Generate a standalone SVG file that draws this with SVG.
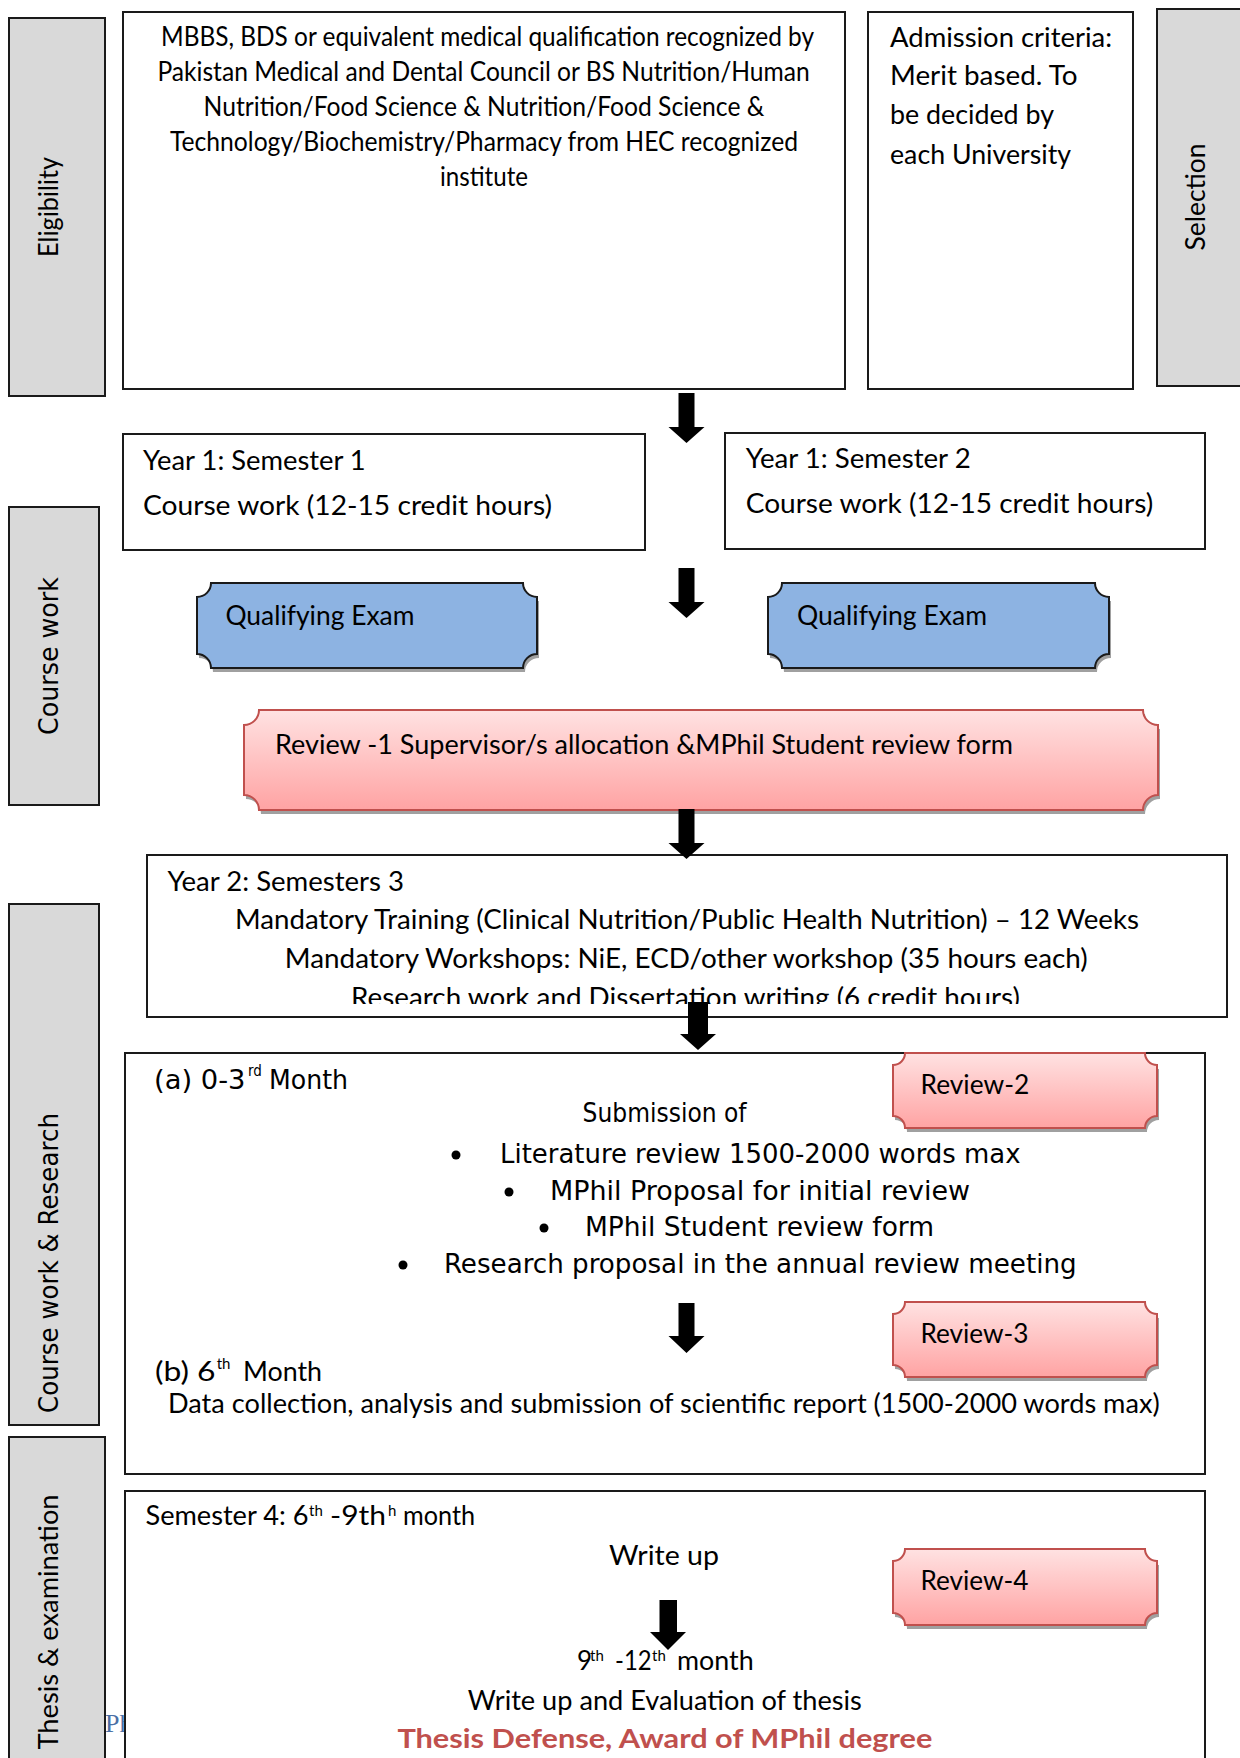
<svg xmlns="http://www.w3.org/2000/svg" width="1240" height="1758" viewBox="0 0 1240 1758">
<defs>
<linearGradient id="pink" x1="0" y1="0" x2="0" y2="1">
<stop offset="0" stop-color="#FFE2E2"/>
<stop offset="1" stop-color="#FFA3A3"/>
</linearGradient>
<clipPath id="y2clip"><rect x="147" y="855" width="1080" height="149"/></clipPath>
</defs>
<style>
.box{fill:#fff;stroke:#1a1a1a;stroke-width:2}
.lab{fill:#D9D9D9;stroke:#1a1a1a;stroke-width:2}
.blue{fill:#8DB3E2;stroke:#1a1a1a;stroke-width:2}
.pink{fill:url(#pink);stroke:#C0504D;stroke-width:2}
.shadow{fill:#A0A0A0}
.t{font-family:Lato,"Liberation Sans",sans-serif;font-size:26px;fill:#000}
.v{font-family:"DejaVu Sans","Liberation Sans",sans-serif;font-size:26px;fill:#000}
.c{font-family:"DejaVu Sans","Liberation Sans",sans-serif;font-stretch:condensed;font-size:26px;fill:#000}
.sup{font-size:15px}
.red{font-family:Lato,"Liberation Sans",sans-serif;font-size:27px;font-weight:bold;fill:#C0504D}
.arrow{fill:#000}
</style>
<rect x="0" y="0" width="1240" height="1758" fill="#fff"/>

<text x="82" y="1732" font-family="'Liberation Serif',serif" font-size="26" fill="#4A6FA5">MPhil</text>

<g id="label-eligibility">
<rect class="lab" x="9" y="18" width="96" height="378"/>
<text class="t" font-size="28" transform="translate(58,207) rotate(-90)" text-anchor="middle" textLength="100" lengthAdjust="spacingAndGlyphs">Eligibility</text>
</g>
<g id="label-selection">
<rect class="lab" x="1157" y="9" width="100" height="377"/>
<text class="t" font-size="28" transform="translate(1205,197) rotate(-90)" text-anchor="middle" textLength="107" lengthAdjust="spacingAndGlyphs">Selection</text>
</g>
<g id="label-coursework">
<rect class="lab" x="9" y="507" width="90" height="298"/>
<text class="v" font-size="28" transform="translate(58,656) rotate(-90)" text-anchor="middle" textLength="158" lengthAdjust="spacingAndGlyphs">Course work</text>
</g>
<g id="label-research">
<rect class="lab" x="9" y="904" width="90" height="521"/>
<text class="v" font-size="28" transform="translate(58,1263) rotate(-90)" text-anchor="middle" textLength="300" lengthAdjust="spacingAndGlyphs">Course work &amp; Research</text>
</g>
<g id="label-thesis">
<rect class="lab" x="9" y="1437" width="96" height="340"/>
<text class="t" font-size="28" transform="translate(58,1622) rotate(-90)" text-anchor="middle" textLength="255" lengthAdjust="spacingAndGlyphs">Thesis &amp; examination</text>
</g>

<g id="eligibility">
<rect class="box" x="123" y="12" width="722" height="377"/>
<text class="t" x="161" y="46" textLength="653" lengthAdjust="spacingAndGlyphs">MBBS, BDS or equivalent medical qualification recognized by</text>
<text class="t" x="157.4" y="81" textLength="652.4" lengthAdjust="spacingAndGlyphs">Pakistan Medical and Dental Council or BS Nutrition/Human</text>
<text class="t" x="203.6" y="116" textLength="560.7" lengthAdjust="spacingAndGlyphs">Nutrition/Food Science &amp; Nutrition/Food Science &amp;</text>
<text class="t" x="170" y="151" textLength="628" lengthAdjust="spacingAndGlyphs">Technology/Biochemistry/Pharmacy from HEC recognized</text>
<text class="t" x="440" y="186" textLength="88" lengthAdjust="spacingAndGlyphs">institute</text>
</g>

<g id="admission">
<rect class="box" x="868" y="12" width="265" height="377"/>
<text class="t" x="890" y="47" textLength="222" lengthAdjust="spacingAndGlyphs">Admission criteria:</text>
<text class="t" x="890" y="85" textLength="187.5" lengthAdjust="spacingAndGlyphs">Merit based. To</text>
<text class="t" x="890" y="124" textLength="164" lengthAdjust="spacingAndGlyphs">be decided by</text>
<text class="t" x="890" y="164" textLength="181" lengthAdjust="spacingAndGlyphs">each University</text>
</g>

<g id="semester1">
<rect class="box" x="123" y="434" width="522" height="116"/>
<text class="t" x="143" y="470" textLength="222.7" lengthAdjust="spacingAndGlyphs">Year 1: Semester 1</text>
<text class="t" x="143" y="515" textLength="409" lengthAdjust="spacingAndGlyphs">Course work (12-15 credit hours)</text>
</g>

<g id="semester2">
<rect class="box" x="725" y="433" width="480" height="116"/>
<text class="t" x="745.7" y="468" textLength="225" lengthAdjust="spacingAndGlyphs">Year 1: Semester 2</text>
<text class="t" x="745.7" y="513" textLength="407.5" lengthAdjust="spacingAndGlyphs">Course work (12-15 credit hours)</text>
</g>

<g id="qualifying1">
<path class="shadow" transform="translate(2,4)" d="M211,583 H523 A14,14 0 0 0 537,597 V654 A14,14 0 0 0 523,668 H211 A14,14 0 0 0 197,654 V597 A14,14 0 0 0 211,583 Z"/>
<path class="blue" d="M211,583 H523 A14,14 0 0 0 537,597 V654 A14,14 0 0 0 523,668 H211 A14,14 0 0 0 197,654 V597 A14,14 0 0 0 211,583 Z"/>
<text class="t" x="225.4" y="625" textLength="189" lengthAdjust="spacingAndGlyphs">Qualifying Exam</text>
</g>

<g id="qualifying2">
<path class="shadow" transform="translate(2,4)" d="M782,583 H1095 A14,14 0 0 0 1109,597 V654 A14,14 0 0 0 1095,668 H782 A14,14 0 0 0 768,654 V597 A14,14 0 0 0 782,583 Z"/>
<path class="blue" d="M782,583 H1095 A14,14 0 0 0 1109,597 V654 A14,14 0 0 0 1095,668 H782 A14,14 0 0 0 768,654 V597 A14,14 0 0 0 782,583 Z"/>
<text class="t" x="797" y="625" textLength="190" lengthAdjust="spacingAndGlyphs">Qualifying Exam</text>
</g>

<g id="review1">
<path class="shadow" transform="translate(2,4)" d="M259,710 H1143 A15,15 0 0 0 1158,725 V795 A15,15 0 0 0 1143,810 H259 A15,15 0 0 0 244,795 V725 A15,15 0 0 0 259,710 Z"/>
<path class="pink" d="M259,710 H1143 A15,15 0 0 0 1158,725 V795 A15,15 0 0 0 1143,810 H259 A15,15 0 0 0 244,795 V725 A15,15 0 0 0 259,710 Z"/>
<text class="t" x="275" y="754" textLength="738" lengthAdjust="spacingAndGlyphs">Review -1 Supervisor/s allocation &amp;MPhil Student review form</text>
</g>

<g id="year2">
<rect class="box" x="147" y="855" width="1080" height="162"/>
<text class="t" x="167.4" y="890.7" textLength="236.6" lengthAdjust="spacingAndGlyphs">Year 2: Semesters 3</text>
<text class="t" x="235" y="929" textLength="904" lengthAdjust="spacingAndGlyphs">Mandatory Training (Clinical Nutrition/Public Health Nutrition) – 12 Weeks</text>
<text class="t" x="284.8" y="967.7" textLength="803" lengthAdjust="spacingAndGlyphs">Mandatory Workshops: NiE, ECD/other workshop (35 hours each)</text>
<text class="t" x="351" y="1007" textLength="669" lengthAdjust="spacingAndGlyphs" clip-path="url(#y2clip)">Research work and Dissertation writing (6 credit hours)</text>
</g>

<g id="research">
<rect class="box" x="125" y="1053" width="1080" height="421"/>
<text class="c"><tspan x="154" y="1089" textLength="91.5" lengthAdjust="spacingAndGlyphs">(a) 0-3</tspan><tspan class="sup" x="248" y="1076">rd</tspan><tspan x="269" y="1089" textLength="79" lengthAdjust="spacingAndGlyphs">Month</tspan></text>
<text class="c" x="582.6" y="1121.7" textLength="164" lengthAdjust="spacingAndGlyphs">Submission of</text>
<circle cx="456" cy="1155" r="4.5"/>
<text class="c" x="500" y="1163" textLength="520.5" lengthAdjust="spacingAndGlyphs">Literature review 1500-2000 words max</text>
<circle cx="509" cy="1192" r="4.5"/>
<text class="c" x="550" y="1200" textLength="420" lengthAdjust="spacingAndGlyphs">MPhil Proposal for initial review</text>
<circle cx="544" cy="1228" r="4.5"/>
<text class="c" x="585" y="1236" textLength="349" lengthAdjust="spacingAndGlyphs">MPhil Student review form</text>
<circle cx="403" cy="1265" r="4.5"/>
<text class="c" x="444" y="1273" textLength="632.7" lengthAdjust="spacingAndGlyphs">Research proposal in the annual review meeting</text>
<text class="t"><tspan x="155" y="1380.7" textLength="60.5" lengthAdjust="spacingAndGlyphs">(b) 6</tspan><tspan class="sup" x="216.7" y="1369">th</tspan><tspan x="243" y="1380.7" textLength="79" lengthAdjust="spacingAndGlyphs">Month</tspan></text>
<text class="t" x="168" y="1412.7" textLength="991.7" lengthAdjust="spacingAndGlyphs">Data collection, analysis and submission of scientific report (1500-2000 words max)</text>
</g>

<g id="review2">
<path class="shadow" transform="translate(2,4)" d="M905,1053 H1145 A12,12 0 0 0 1157,1065 V1116 A12,12 0 0 0 1145,1128 H905 A12,12 0 0 0 893,1116 V1065 A12,12 0 0 0 905,1053 Z"/>
<path class="pink" d="M905,1053 H1145 A12,12 0 0 0 1157,1065 V1116 A12,12 0 0 0 1145,1128 H905 A12,12 0 0 0 893,1116 V1065 A12,12 0 0 0 905,1053 Z"/>
<text class="t" x="920.5" y="1094" textLength="108.7" lengthAdjust="spacingAndGlyphs">Review-2</text>
</g>

<g id="review3">
<path class="shadow" transform="translate(2,4)" d="M905,1302 H1145 A12,12 0 0 0 1157,1314 V1365 A12,12 0 0 0 1145,1377 H905 A12,12 0 0 0 893,1365 V1314 A12,12 0 0 0 905,1302 Z"/>
<path class="pink" d="M905,1302 H1145 A12,12 0 0 0 1157,1314 V1365 A12,12 0 0 0 1145,1377 H905 A12,12 0 0 0 893,1365 V1314 A12,12 0 0 0 905,1302 Z"/>
<text class="t" x="920.5" y="1342.7" textLength="108" lengthAdjust="spacingAndGlyphs">Review-3</text>
</g>

<g id="thesis">
<rect class="box" x="125" y="1491" width="1080" height="300"/>
<text class="t"><tspan x="145.5" y="1525" textLength="163" lengthAdjust="spacingAndGlyphs">Semester 4: 6</tspan><tspan class="sup" x="309" y="1516">th</tspan><tspan x="330" y="1525" textLength="56" lengthAdjust="spacingAndGlyphs">-9th</tspan><tspan class="sup" x="388" y="1516">h</tspan><tspan x="403" y="1525" textLength="72" lengthAdjust="spacingAndGlyphs">month</tspan></text>
<text class="t" x="609" y="1565" textLength="110" lengthAdjust="spacingAndGlyphs">Write up</text>
<text class="t"><tspan x="577" y="1670">9</tspan><tspan class="sup" x="590" y="1661">th</tspan><tspan x="615" y="1670" textLength="36.6" lengthAdjust="spacingAndGlyphs">-12</tspan><tspan class="sup" x="652" y="1661">th</tspan><tspan x="677" y="1670" textLength="76.6" lengthAdjust="spacingAndGlyphs">month</tspan></text>
<text class="t" x="467.8" y="1710" textLength="394" lengthAdjust="spacingAndGlyphs">Write up and Evaluation of thesis</text>
<text class="red" x="397.4" y="1748" textLength="535" lengthAdjust="spacingAndGlyphs">Thesis Defense, Award of MPhil degree</text>
</g>

<g id="review4">
<path class="shadow" transform="translate(2,4)" d="M905,1549 H1145 A12,12 0 0 0 1157,1561 V1613 A12,12 0 0 0 1145,1625 H905 A12,12 0 0 0 893,1613 V1561 A12,12 0 0 0 905,1549 Z"/>
<path class="pink" d="M905,1549 H1145 A12,12 0 0 0 1157,1561 V1613 A12,12 0 0 0 1145,1625 H905 A12,12 0 0 0 893,1613 V1561 A12,12 0 0 0 905,1549 Z"/>
<text class="t" x="920.5" y="1590" textLength="108" lengthAdjust="spacingAndGlyphs">Review-4</text>
</g>

<g id="connectors">
<polygon class="arrow" points="678.5,393 694.5,393 694.5,427 704.5,427 686.5,443 668.5,427 678.5,427"/>
<polygon class="arrow" points="678.5,568 694.5,568 694.5,602 704.5,602 686.5,618 668.5,602 678.5,602"/>
<polygon class="arrow" points="678.5,809 694.5,809 694.5,843 704.5,843 686.5,859 668.5,843 678.5,843"/>
<polygon class="arrow" points="688,1002 708,1002 708,1034 716,1034 698,1050 680,1034 688,1034"/>
<polygon class="arrow" points="678.5,1303 694.5,1303 694.5,1336 704.5,1336 686.5,1353 668.5,1336 678.5,1336"/>
<polygon class="arrow" points="659.5,1600 677,1600 677,1632 686,1632 668,1650 650,1632 659.5,1632"/>
</g>
</svg>
